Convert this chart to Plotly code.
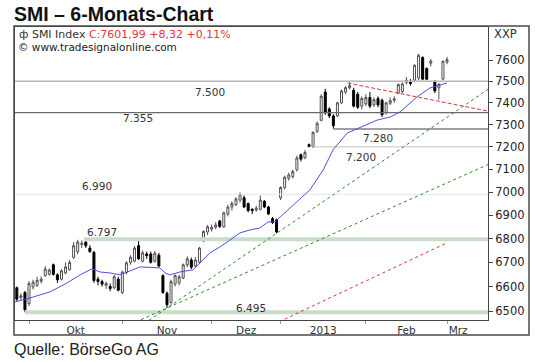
import math
import plotly.graph_objects as go

# ------------------------------------------------------------------ data
first_day = -3  # trading-day index of the first candle (0 = 1 Oct 2012)

opens = [6595, 6555, 6575, 6530, 6598, 6605, 6622, 6645, 6650, 6690, 6648, 6630, 6656, 6670,
         6720, 6745, 6775, 6785, 6760, 6742, 6630, 6620, 6605, 6600, 6595, 6630, 6575, 6658,
         6700, 6705, 6770, 6705, 6735, 6735, 6705, 6730, 6645, 6572, 6535, 6610, 6615, 6635,
         6690, 6710, 6685, 6700, 6790, 6828, 6840, 6848, 6875, 6850, 6905, 6935, 6945, 6965,
         6975, 6950, 6925, 6922, 6925, 6960, 6935, 6885, 6880, 6975, 7020, 7060, 7068, 7098,
         7165, 7150, 7210, 7200, 7270, 7320, 7450, 7372, 7340, 7340, 7400, 7450, 7470, 7458,
         7440, 7385, 7395, 7425, 7390, 7420, 7412, 7355, 7398, 7412, 7445, 7452, 7495, 7500,
         7505, 7515, 7612, 7560, 7585, 7500, 7470, 7510, 7590]
highs = [6600, 6572, 6582, 6622, 6628, 6640, 6642, 6685, 6675, 6695, 6655, 6672, 6700, 6710,
         6785, 6795, 6792, 6797, 6772, 6748, 6640, 6628, 6620, 6612, 6648, 6640, 6665, 6705,
         6730, 6768, 6800, 6750, 6745, 6745, 6748, 6740, 6650, 6580, 6628, 6650, 6648, 6695,
         6725, 6720, 6722, 6765, 6835, 6858, 6860, 6870, 6880, 6915, 6945, 6960, 6978, 6998,
         6985, 6955, 6930, 6940, 6985, 6965, 6940, 6892, 6885, 7025, 7072, 7085, 7098, 7160,
         7170, 7185, 7215, 7270, 7315, 7440, 7465, 7380, 7348, 7405, 7462, 7478, 7495, 7470,
         7450, 7430, 7440, 7450, 7425, 7430, 7420, 7405, 7425, 7430, 7490, 7495, 7520, 7510,
         7580, 7630, 7618, 7565, 7605, 7505, 7492, 7598, 7615]
lows = [6540, 6545, 6495, 6520, 6588, 6598, 6612, 6640, 6645, 6645, 6615, 6625, 6650, 6665,
        6715, 6735, 6760, 6760, 6740, 6615, 6605, 6600, 6590, 6580, 6588, 6580, 6568, 6650,
        6690, 6700, 6710, 6700, 6715, 6695, 6698, 6680, 6570, 6512, 6525, 6600, 6605, 6630,
        6680, 6672, 6680, 6695, 6785, 6815, 6830, 6840, 6845, 6845, 6895, 6920, 6940, 6955,
        6930, 6912, 6905, 6915, 6920, 6930, 6900, 6862, 6822, 6965, 7012, 7050, 7060, 7090,
        7135, 7145, 7198, 7195, 7262, 7315, 7345, 7330, 7280, 7335, 7395, 7440, 7462, 7378,
        7372, 7370, 7385, 7375, 7380, 7380, 7335, 7345, 7390, 7400, 7440, 7445, 7485, 7480,
        7495, 7505, 7505, 7505, 7570, 7445, 7415, 7505, 7580]
closes = [6548, 6562, 6505, 6612, 6618, 6625, 6630, 6672, 6668, 6650, 6628, 6665, 6681, 6700,
          6770, 6785, 6780, 6770, 6745, 6625, 6620, 6610, 6612, 6592, 6640, 6585, 6660, 6698,
          6722, 6760, 6715, 6740, 6728, 6700, 6738, 6685, 6575, 6525, 6620, 6645, 6640, 6690,
          6715, 6680, 6710, 6760, 6830, 6850, 6848, 6858, 6852, 6910, 6935, 6950, 6970, 6990,
          6935, 6920, 6920, 6930, 6965, 6935, 6905, 6868, 6828, 7020, 7065, 7075, 7090, 7150,
          7145, 7175, 7202, 7265, 7305, 7430, 7355, 7340, 7295, 7400, 7455, 7470, 7480, 7385,
          7380, 7420, 7425, 7385, 7415, 7390, 7345, 7400, 7410, 7418, 7485, 7488, 7505, 7490,
          7575, 7622, 7510, 7510, 7595, 7455, 7485, 7594, 7602]

# 20-day moving average (day index, value)
ma_days = [-3.45, 0.25, 5.2, 9.4, 12.6, 15.5, 17.5, 20, 22.4, 24.1, 27.4, 32.3, 33.5, 34.7,
           37.2, 40.4, 42.1, 44.6, 47.1, 50.3, 52, 54.5, 56.9, 58.9, 60.6, 61.9, 64.3, 69.2,
           72.5, 74.9, 78.4, 81.6, 85.8, 89, 91.4, 95.6, 98.8, 103]
ma_values = [6537, 6553, 6578, 6615, 6648, 6673, 6660, 6656, 6648, 6660, 6681, 6677, 6656, 6648,
             6660, 6669, 6698, 6740, 6765, 6803, 6824, 6837, 6845, 6871, 6871, 6892, 6931, 7009,
             7097, 7186, 7262, 7289, 7321, 7335, 7358, 7427, 7469, 7492]

# horizontal support / resistance levels and the day they start from (None = whole chart)
level_values = [7500, 7355, 7280, 7200, 6990, 6797, 6495]
level_from_day = [None, None, 75, 69.5, None, 13.5, -1]

# trend lines: two anchor points each (day, value)
trend_green_steep = [(34, 6512), (61, 6822)]
trend_green_flat = [(34, 6512), (103, 7040)]
trend_red_lower = [(62.6, 6464), (103, 6782)]
trend_red_upper = [(78.5, 7492), (113.1, 7362)]

month_names = ["Okt", "Nov", "Dez", "2013", "Feb", "Mrz"]
month_start_days = [0, 23, 45, 62, 83, 103]

y_ticks = [6500, 6600, 6700, 6800, 6900, 7000, 7100, 7200, 7300, 7400, 7500, 7600]

last_close, change, change_pct = "7601,99", "+8,32", "+0,11%"

# ------------------------------------------------------------------ layout constants
W, H = 540, 362
PL, PR, PT, PB = 15, 488, 27, 320
X_RANGE = [-3.45, 113.1]
Y_RANGE = [math.log10(6463.7), math.log10(7758)]
SMALL = "DejaVu Sans"

days = list(range(first_day, first_day + len(closes)))


def px(x, y):
    """pixel -> paper coordinates"""
    return (x - PL) / (PR - PL), (PB - y) / (PB - PT)


def extend(pts, d0, d1):
    (xa, va), (xb, vb) = pts
    la, lb = math.log10(va), math.log10(vb)
    f = lambda d: 10 ** (la + (lb - la) * (d - xa) / (xb - xa))
    return [d0, d1], [f(d0), f(d1)]


fig = go.Figure()

level_style = {7500: ("#b8b8b8", 1.5), 7355: ("#6a6a6a", 1.3), 7280: ("#a0a0a0", 2),
               7200: ("#c4c4c4", 1), 6990: ("#e6e6e6", 1), 6797: ("#c8dcc8", 4),
               6495: ("#c8dcc8", 4)}
for v, d0 in zip(level_values, level_from_day):
    c, w = level_style[v]
    fig.add_trace(go.Scatter(x=[X_RANGE[0] if d0 is None else d0, X_RANGE[1]], y=[v, v],
                             mode="lines", line=dict(color=c, width=w),
                             hoverinfo="skip", showlegend=False))

for pts, d0, d1, col, dash in [
    (trend_green_steep, X_RANGE[0], X_RANGE[1], "#2f8a2f", "dot"),
    (trend_green_flat, X_RANGE[0], X_RANGE[1], "#2f8a2f", "dot"),
    (trend_red_lower, 55, 103, "#e0303a", "dot"),
    (trend_red_upper, 78.5, X_RANGE[1], "#e0303a", "4px,2px"),
]:
    xs, ys = extend(pts, d0, d1)
    fig.add_trace(go.Scatter(x=xs, y=ys, mode="lines",
                             line=dict(color=col, width=1, dash=dash),
                             hoverinfo="skip", showlegend=False))

fig.add_trace(go.Scatter(x=ma_days, y=ma_values, mode="lines",
                         line=dict(color="#5050e0", width=1),
                         hoverinfo="skip", showlegend=False))

fig.add_trace(go.Candlestick(
    x=days, open=opens, high=highs, low=lows, close=closes,
    increasing=dict(line=dict(color="#505050", width=1), fillcolor="#ffffff"),
    decreasing=dict(line=dict(color="#000000", width=1), fillcolor="#000000"),
    whiskerwidth=0, showlegend=False, hoverinfo="skip"))

# month labels centred in each month, tick marks at month starts
label_pos = [(a + b) / 2 for a, b in zip(month_start_days, month_start_days[1:] + [month_start_days[-1] + 5.5])]

annotations = []
# level labels (pixel placement)
level_label_px = {7500: (210, 91.5), 7355: (138, 118), 7280: (377.5, 137.5), 7200: (361, 157),
                  6990: (97, 186), 6797: (101.5, 231.5), 6495: (251, 307.5)}
for v in level_values:
    x, y = px(*level_label_px[v])
    annotations.append(dict(x=x, y=y, xref="paper", yref="paper", showarrow=False,
                            text=f"{v:,}".replace(",", "."), xanchor="center", yanchor="middle",
                            font=dict(family=SMALL, size=10.5, color="#333333")))

x, y = px(17, 34)
annotations.append(dict(x=x, y=y, xref="paper", yref="paper", showarrow=False, xanchor="left",
                        yanchor="middle",
                        text=("ф SMI Index <span style='color:#e8333b'>C:" + last_close + " " + change
                              + " " + change_pct + "</span>"),
                        font=dict(family=SMALL, size=11, color="#333333")))
x, y = px(16, 47)
annotations.append(dict(x=x, y=y, xref="paper", yref="paper", showarrow=False, xanchor="left",
                        yanchor="middle", text="© www.tradesignalonline.com",
                        font=dict(family=SMALL, size=10.5, color="#222222")))
x, y = px(492, 34)
annotations.append(dict(x=x, y=y, xref="paper", yref="paper", showarrow=False, xanchor="left",
                        yanchor="middle", text="XXP",
                        font=dict(family=SMALL, size=11.5, color="#333333")))
x, y = px(12, 14.5)
annotations.append(dict(x=x, y=y, xref="paper", yref="paper", showarrow=False, xanchor="left",
                        yanchor="middle", text="<b>SMI – 6-Monats-Chart</b>",
                        font=dict(family="Liberation Sans", size=19.5, color="#111111")))
x, y = px(12, 349)
annotations.append(dict(x=x, y=y, xref="paper", yref="paper", showarrow=False, xanchor="left",
                        yanchor="middle", text="Quelle: BörseGo AG",
                        font=dict(family="Liberation Sans", size=16, color="#222222")))

x0, y0 = px(14, 335)
x1, y1 = px(529, 26)
shapes = [dict(type="rect", xref="paper", yref="paper", x0=x0, y0=y0, x1=x1, y1=y1,
               line=dict(color="#4a4a4a", width=1.5), fillcolor="rgba(0,0,0,0)")]

fig.update_layout(
    width=W, height=H,
    margin=dict(l=PL, r=W - PR, t=PT, b=H - PB, pad=0),
    paper_bgcolor="white", plot_bgcolor="white",
    showlegend=False,
    annotations=annotations, shapes=shapes,
    xaxis=dict(range=X_RANGE, rangeslider=dict(visible=False), showgrid=False, zeroline=False,
               tickmode="array", tickvals=label_pos, ticktext=month_names, ticks="",
               tickfont=dict(family=SMALL, size=10.5, color="#333333"),
               showline=True, mirror=True, linecolor="#444444", linewidth=1,
               minor=dict(tickmode="array", tickvals=month_start_days, ticks="outside",
                          ticklen=3, tickcolor="#9a9a9a", showgrid=False)),
    yaxis=dict(type="log", range=Y_RANGE, side="right", showgrid=False, zeroline=False,
               tickmode="array", tickvals=y_ticks, ticktext=[str(t) for t in y_ticks],
               ticks="outside", ticklen=4, tickcolor="#444444",
               tickfont=dict(family=SMALL, size=11.5, color="#222222"),
               showline=True, mirror=True, linecolor="#444444", linewidth=1),
)

fig.write_html("out.html", config={"displayModeBar": False},
               post_script="document.body.style.margin='0';document.body.style.overflow='hidden';")
